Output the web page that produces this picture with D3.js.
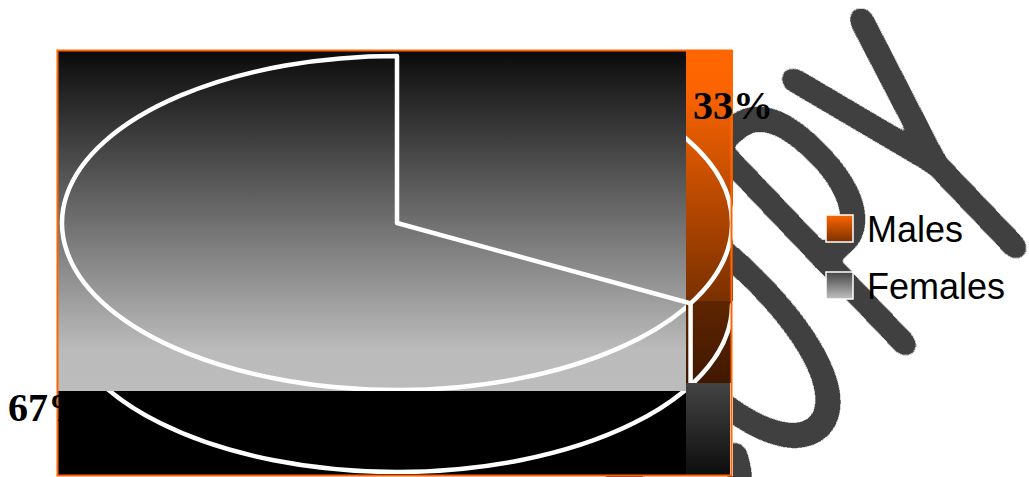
<!DOCTYPE html>
<html>
<head>
<meta charset="utf-8">
<script src="https://cdn.jsdelivr.net/npm/d3@7"></script>
<style>
  html, body { margin: 0; padding: 0; background: #fff; }
  svg { display: block; }
</style>
</head>
<body>
<div id="chart"></div>
<script>
// --- Data
const categories = ["Males", "Females"];
const values = [33, 67];
const valueLabels = ["33%", "67%"];
const watermark = "COPY";

// --- Layout
const W = 1029, H = 477;
const frame = { x0: 57, y0: 50, x1: 733, y1: 476 };
const split = 686;          // left panel / right column boundary
const floorY = 391;         // grey panel / black panel boundary
const pie = { cx: 397, cy: 223, rx: 335, ry: 167, depth: 82 };
const labelPos = [{ x: 693, y: 119 }, { x: 8, y: 421 }];

const svg = d3.select("#chart").append("svg")
  .attr("width", W).attr("height", H);
const defs = svg.append("defs");

function grad(id, stops) {
  const g = defs.append("linearGradient").attr("id", id)
    .attr("x1", 0).attr("y1", 0).attr("x2", 0).attr("y2", 1);
  stops.forEach(([o, c]) => g.append("stop").attr("offset", o).attr("stop-color", c));
}
grad("gGrey", [[0, "#0a0a0a"], [0.88, "#bbbbbb"], [1, "#bcbcbc"]]);
grad("gOrange", [[0, "#ff6600"], [0.16, "#fb6400"], [1, "#7a3000"]]);
grad("gBrown", [[0, "#5e2500"], [1, "#401800"]]);
grad("gDark", [[0, "#444444"], [1, "#0c0c0c"]]);
grad("gMale", [[0, "#ff6600"], [1, "#7a3000"]]);
grad("gFemale", [[0, "#444444"], [1, "#c0c0c0"]]);

function clip(id, x, y, w, h) {
  defs.append("clipPath").attr("id", id)
    .append("rect").attr("x", x).attr("y", y).attr("width", w).attr("height", h);
}
clip("cGrey", frame.x0 + 1, frame.y0 + 1, split - frame.x0 - 1, floorY - frame.y0 - 1);
clip("cBlack", frame.x0 + 1, floorY, split - frame.x0 - 1, frame.y1 - floorY - 2);
clip("cCol", split, frame.y0 + 1, frame.x1 - split, 383 - frame.y0 - 1);

// --- Watermark font: look for an installed hairline face
function textWidth(family, weight) {
  const t = svg.append("text").attr("font-family", family)
    .attr("font-weight", weight).attr("font-size", 100).text("COPYOMa");
  const w = t.node().getComputedTextLength();
  t.remove();
  return w;
}
const bogus = "NoSuchFontXyz";
let thin = null;
for (const fam of ["Lato", "Roboto", "Inter"]) {
  const w4 = textWidth(fam, 400), w1 = textWidth(fam, 100);
  if (Math.abs(w4 - textWidth(bogus, 400)) > 0.5 && Math.abs(w4 - w1) > 0.5) { thin = fam; break; }
}

// thicken the hairline letters evenly in screen space (blur + threshold + flat colour)
const f = defs.append("filter").attr("id", "fBold")
  .attr("filterUnits", "userSpaceOnUse")
  .attr("x", 0).attr("y", 0).attr("width", W).attr("height", H);
f.append("feGaussianBlur").attr("in", "SourceAlpha").attr("stdDeviation", 5.5).attr("result", "b");
f.append("feComponentTransfer").attr("in", "b").attr("result", "m")
  .append("feFuncA").attr("type", "linear").attr("slope", 120).attr("intercept", -1.18);
f.append("feFlood").attr("flood-color", "#404040").attr("result", "c");
f.append("feComposite").attr("in", "c").attr("in2", "m").attr("operator", "in");

// --- Watermark (behind everything), slanted lettering
const wmG = svg.append("g").attr("filter", thin ? "url(#fBold)" : null);
const wm = wmG.append("text")
  .attr("transform", "matrix(1.34,-1.18,2.76,2.9,1018,250)")
  .attr("font-family", thin ? thin : "Liberation Sans, Arial, sans-serif")
  .attr("font-weight", thin ? 100 : 400)
  .attr("font-size", 100)
  .attr("fill", "#404040")
  .text(watermark);
// place each glyph: O centre, P stem and Y stem along the slanted baseline
{
  const node = wm.node();
  const adv = d3.range(watermark.length).map(i => node.getSubStringLength(i, 1));
  const xY = -adv[3] / 2;
  const xP = -84 - 0.19 * adv[2];
  const xO = -150 - adv[1] / 2;
  const xC = xO - adv[0];
  wm.attr("x", [xC, xO, xP, xY].join(" ")).attr("y", 0);
}

// --- Chart background panels
svg.append("rect")
  .attr("x", frame.x0).attr("y", frame.y0)
  .attr("width", frame.x1 - frame.x0).attr("height", frame.y1 - frame.y0)
  .attr("fill", "#fff");
svg.append("rect").attr("x", frame.x0).attr("y", frame.y0)
  .attr("width", split - frame.x0).attr("height", floorY - frame.y0)
  .attr("fill", "url(#gGrey)");
svg.append("rect").attr("x", frame.x0).attr("y", floorY)
  .attr("width", split - frame.x0).attr("height", frame.y1 - floorY)
  .attr("fill", "#000");
svg.append("rect").attr("x", split).attr("y", frame.y0)
  .attr("width", frame.x1 - split).attr("height", 301 - frame.y0)
  .attr("fill", "url(#gOrange)");
svg.append("rect").attr("x", split).attr("y", 301)
  .attr("width", frame.x1 - split - 1).attr("height", 82)
  .attr("fill", "url(#gBrown)");
svg.append("rect").attr("x", split).attr("y", 383)
  .attr("width", frame.x1 - split - 3).attr("height", frame.y1 - 383)
  .attr("fill", "url(#gDark)");

// --- Pie geometry (elliptical 3D pie)
const arcs = d3.pie().sort(null).value(d => d)(values);
const k = pie.rx / pie.ry;
const arcGen = d3.arc().innerRadius(0).outerRadius(pie.ry);
const rimGen = d3.arc().innerRadius(pie.ry).outerRadius(pie.ry);
const pt = a => [pie.cx + pie.rx * Math.sin(a), pie.cy - pie.ry * Math.cos(a)];

function layer(clipId) {
  return svg.append("g").attr("clip-path", `url(#${clipId})`);
}
function face(g, d, dy) {
  g.append("path")
    .attr("transform", `translate(${pie.cx},${pie.cy + dy}) scale(${k},1)`)
    .attr("d", d)
    .attr("fill", "none")
    .attr("stroke", "#fff")
    .attr("stroke-width", 4.5)
    .attr("stroke-linejoin", "round")
    .attr("vector-effect", "non-scaling-stroke");
}

// grey panel: top face of Females slice
face(layer("cGrey"), arcGen(arcs[1]), 0);

// black panel: lower rim of the pie
face(layer("cBlack"), rimGen({ startAngle: Math.PI / 2, endAngle: 3 * Math.PI / 2 }), pie.depth);

// right column: top face of Males slice, its side edge and rim
const gCol = layer("cCol");
face(gCol, arcGen(arcs[0]), 0);
face(gCol, rimGen({ startAngle: Math.PI / 2, endAngle: 3 * Math.PI / 2 }), pie.depth);
const [ex, ey] = pt(arcs[0].endAngle);
gCol.append("line")
  .attr("x1", ex).attr("x2", ex).attr("y1", ey).attr("y2", ey + pie.depth)
  .attr("stroke", "#fff").attr("stroke-width", 4.5);

// --- Frame border
svg.append("rect")
  .attr("x", frame.x0 + 0.5).attr("y", frame.y0 + 0.5)
  .attr("width", frame.x1 - frame.x0 - 2).attr("height", frame.y1 - frame.y0 - 1)
  .attr("fill", "none")
  .attr("stroke", "#ff6600")
  .attr("stroke-width", 2);

// --- Value labels
svg.selectAll("text.val").data(valueLabels).join("text")
  .attr("class", "val")
  .attr("x", (d, i) => labelPos[i].x)
  .attr("y", (d, i) => labelPos[i].y)
  .attr("font-family", "Liberation Serif, Times New Roman, serif")
  .attr("font-weight", "bold")
  .attr("font-size", 40)
  .attr("fill", "#000")
  .text(d => d);

// --- Legend
const legend = svg.append("g").attr("transform", "translate(826,215)");
const item = legend.selectAll("g").data(categories).join("g")
  .attr("transform", (d, i) => `translate(0,${i * 57})`);
item.append("rect")
  .attr("width", 27).attr("height", 27)
  .attr("fill", (d, i) => i === 0 ? "url(#gMale)" : "url(#gFemale)")
  .attr("stroke", "#fff").attr("stroke-width", 1.5);
item.append("text")
  .attr("x", 41).attr("y", 27)
  .attr("font-family", "Liberation Sans, Arial, sans-serif")
  .attr("font-size", 36)
  .attr("fill", "#000")
  .text(d => d);
</script>
</body>
</html>
